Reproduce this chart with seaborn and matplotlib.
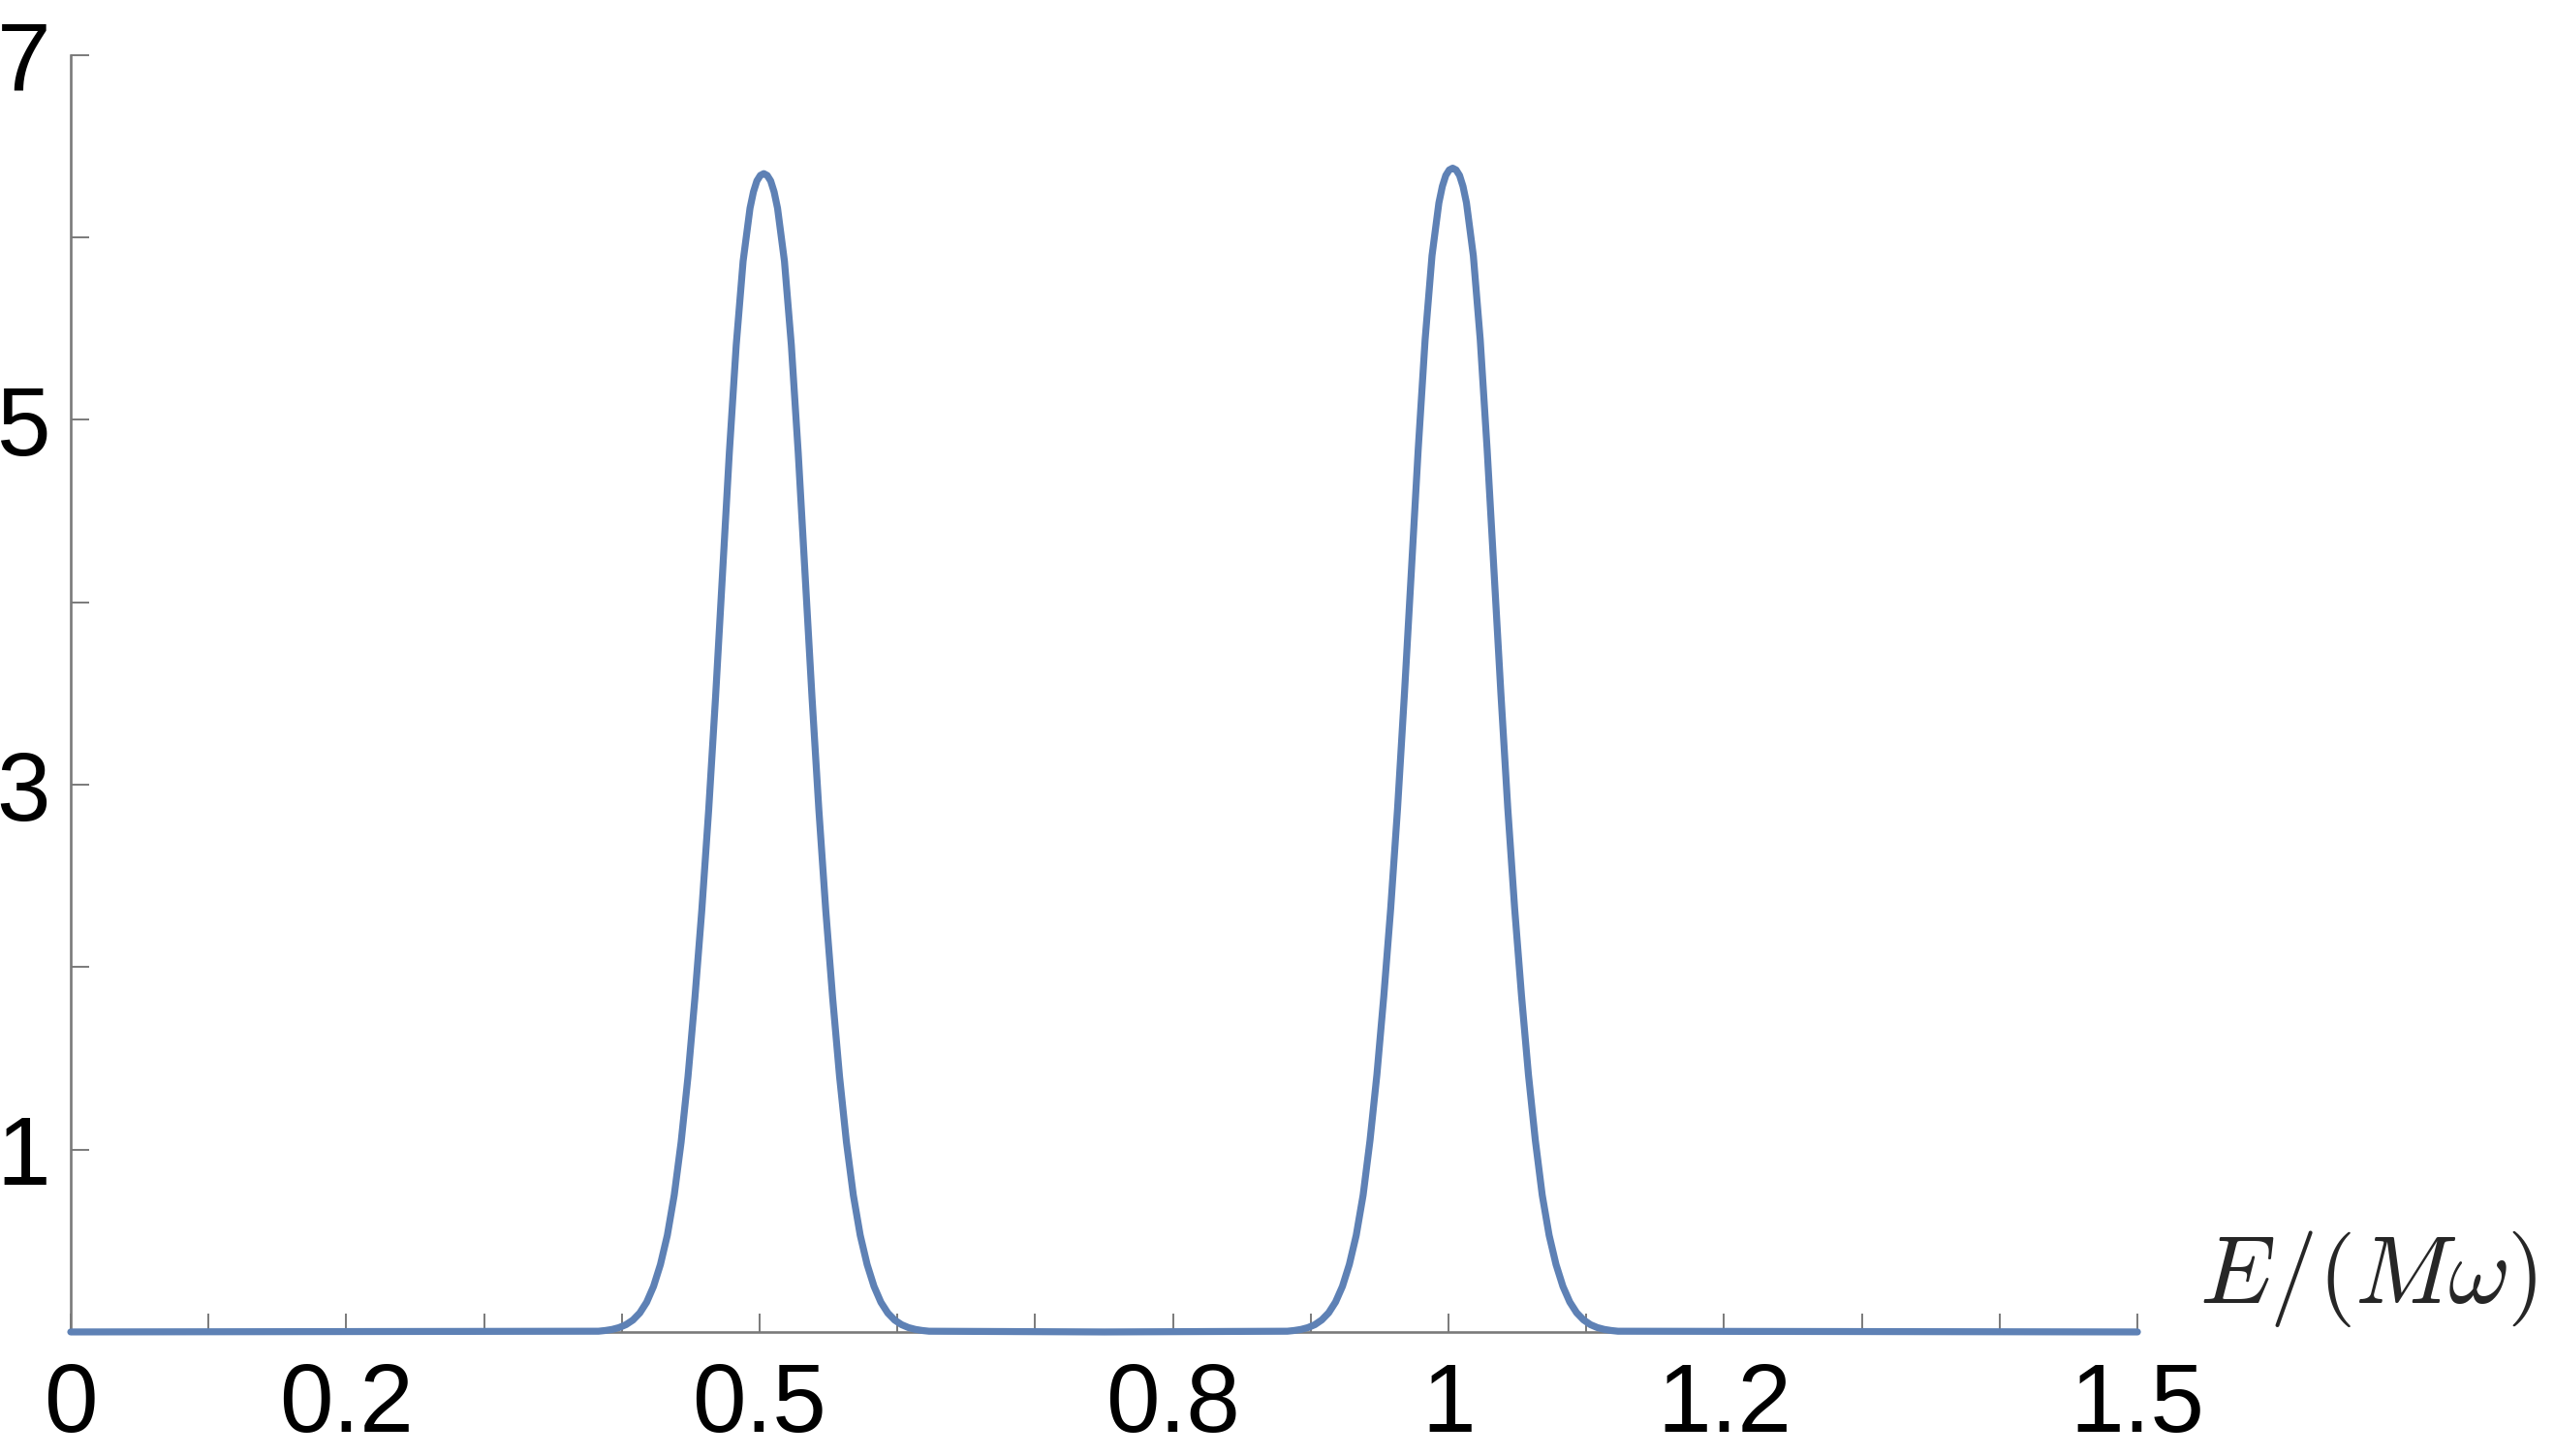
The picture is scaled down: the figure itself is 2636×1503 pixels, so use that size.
import numpy as np
import pandas as pd
import matplotlib
matplotlib.use("Agg")
import matplotlib.pyplot as plt
import seaborn as sns

sns.set_style("ticks")
plt.rcParams['font.family'] = ['Liberation Sans', 'DejaVu Sans']
plt.rcParams['mathtext.fontset'] = 'cm'

# curve: two narrow peaks near 0.5 and 1.0
peak1_x = [0.383, 0.388, 0.393, 0.398, 0.403, 0.408, 0.413, 0.418, 0.423, 0.428,
           0.433, 0.438, 0.443, 0.448, 0.453, 0.458, 0.463, 0.468, 0.473, 0.478,
           0.483, 0.488, 0.493, 0.4955, 0.498, 0.5005, 0.503, 0.5055, 0.508, 0.5105,
           0.513, 0.518, 0.523, 0.528,
           0.533, 0.538, 0.543, 0.548, 0.553, 0.558, 0.563, 0.568, 0.573, 0.578,
           0.583, 0.588, 0.593, 0.598, 0.603, 0.608, 0.613, 0.618, 0.623]
peak1_y = [0.004, 0.008, 0.014, 0.024, 0.040, 0.065, 0.104, 0.163, 0.25, 0.37,
           0.53, 0.75, 1.04, 1.40, 1.83, 2.31, 2.86, 3.48, 4.15, 4.82,
           5.41, 5.87, 6.16, 6.25, 6.31, 6.34, 6.35, 6.34, 6.31, 6.25,
           6.16, 5.87, 5.41, 4.82,
           4.15, 3.48, 2.86, 2.31, 1.83, 1.40, 1.04, 0.75, 0.53, 0.37,
           0.25, 0.163, 0.104, 0.065, 0.040, 0.024, 0.014, 0.008, 0.004]
peak2_x = [0.883, 0.888, 0.893, 0.898, 0.903, 0.908, 0.913, 0.918, 0.923, 0.928,
           0.933, 0.938, 0.943, 0.948, 0.953, 0.958, 0.963, 0.968, 0.973, 0.978,
           0.983, 0.988, 0.993, 0.9955, 0.998, 1.0005, 1.003, 1.0055, 1.008, 1.0105,
           1.013, 1.018, 1.023, 1.028,
           1.033, 1.038, 1.043, 1.048, 1.053, 1.058, 1.063, 1.068, 1.073, 1.078,
           1.083, 1.088, 1.093, 1.098, 1.103, 1.108, 1.113, 1.118, 1.123]
peak2_y = [0.004, 0.008, 0.014, 0.024, 0.040, 0.066, 0.105, 0.164, 0.25, 0.37,
           0.53, 0.75, 1.05, 1.41, 1.84, 2.32, 2.87, 3.50, 4.17, 4.84,
           5.44, 5.90, 6.19, 6.28, 6.34, 6.37, 6.38, 6.37, 6.34, 6.28,
           6.19, 5.90, 5.44, 4.84,
           4.17, 3.50, 2.87, 2.32, 1.84, 1.41, 1.05, 0.75, 0.53, 0.37,
           0.25, 0.164, 0.105, 0.066, 0.040, 0.024, 0.014, 0.008, 0.004]
flat_x = [0.0, 0.75, 1.5]
flat_y = [0.0, 0.0, 0.0]

xtick_pos = [0.0, 0.1, 0.2, 0.3, 0.4, 0.5, 0.6, 0.7, 0.8, 0.9, 1.0, 1.1, 1.2, 1.3, 1.4, 1.5]
xtick_lab = ['0', '', '0.2', '', '', '0.5', '', '', '0.8', '', '1', '', '1.2', '', '', '1.5']
ytick_pos = [1, 2, 3, 4, 5, 6, 7]
ytick_lab = ['1', '', '3', '', '5', '', '7']

df = pd.DataFrame({'E': flat_x + peak1_x + peak2_x,
                   'rho': flat_y + peak1_y + peak2_y})

fig = plt.figure(figsize=(26.36, 15.03), dpi=100)
ax = fig.add_axes([0.0277, 0.0852, 0.8092, 0.877])
sns.lineplot(data=df, x='E', y='rho', ax=ax, color='#5E81B5', linewidth=5.2, zorder=5)
for ln in ax.lines:
    ln.set_clip_on(False)
    ln.set_solid_joinstyle('round')
    ln.set_solid_capstyle('round')

ax.set_xlim(0, 1.5)
ax.set_ylim(0, 7)
ax.set_xticks(xtick_pos)
ax.set_xticklabels(xtick_lab)
ax.set_yticks(ytick_pos)
ax.set_yticklabels(ytick_lab)
ax.set_xlabel('')
ax.set_ylabel('')

axis_col = '#7a7a7a'
for s in ['top', 'right']:
    ax.spines[s].set_visible(False)
for s in ['left', 'bottom']:
    ax.spines[s].set_color(axis_col)
    ax.spines[s].set_linewidth(1.9)
ax.tick_params(axis='both', direction='in', length=13.7, width=1.4, color=axis_col,
               labelsize=72, labelcolor='black', bottom=True, left=True)
ax.tick_params(axis='x', pad=22)
ax.tick_params(axis='y', pad=15)

fig.text(0.861, 0.105, r'$E/(M\omega)$', fontsize=71, ha='left', va='baseline')

fig.savefig('out.png', dpi=100)
